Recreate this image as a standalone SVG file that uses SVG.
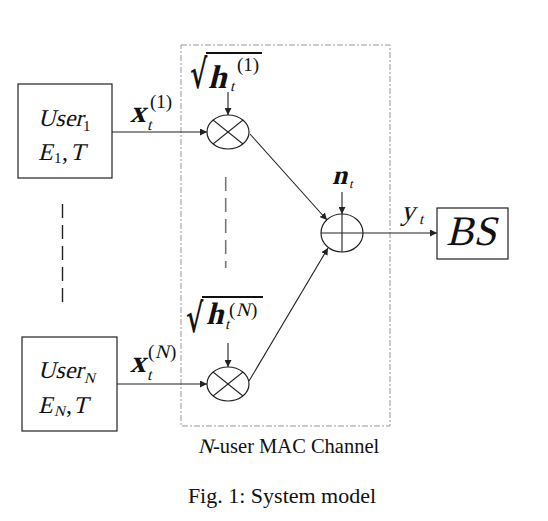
<svg xmlns="http://www.w3.org/2000/svg" width="548" height="521" viewBox="0 0 548 521">
<defs>
<marker id="ah" viewBox="0 0 10 10" refX="10" refY="5" markerWidth="7" markerHeight="7" markerUnits="userSpaceOnUse" orient="auto">
<path d="M0,0 L10,5 L0,10 z" fill="#222"/>
</marker>
</defs>
<style>
.box{fill:#fff;stroke:#222;stroke-width:1.2}
.op{fill:#fff;stroke:#222;stroke-width:1.2}
.ln{stroke:#222;stroke-width:1.1;fill:none}
.m{font-family:"Liberation Serif","Times New Roman",serif;fill:#111}
.r{font-family:"Liberation Serif","Times New Roman",serif;fill:#111}
.b{font-weight:bold}
.rad{font-family:"DejaVu Serif",serif;fill:#111;font-weight:bold}
</style>
<rect width="548" height="521" fill="#fff"/>
<g id="channel">
<rect x="181" y="45" width="209" height="381" fill="none" stroke="#999" stroke-width="1" stroke-dasharray="6 2 2 2"/>
<text class="m" transform="translate(198,453) skewX(-14)" font-size="20.5">N</text>
<text class="r" x="213" y="453" font-size="20.5">-user MAC Channel</text>
</g>
<g id="user1">
<rect class="box" x="18" y="84" width="94" height="94"/>
<text class="m" transform="translate(38,126) skewX(-14)" font-size="24">User</text>
<text class="r" x="83" y="131" font-size="15">1</text>
<text class="m" transform="translate(38,160) skewX(-14)" font-size="24">E</text>
<text class="r" x="54" y="163" font-size="15">1</text>
<text class="r" x="62" y="160" font-size="24">,</text>
<text class="m" transform="translate(70,160) skewX(-14)" font-size="24">T</text>
</g>
<g id="userN">
<rect class="box" x="22" y="337" width="95" height="94"/>
<text class="m" transform="translate(38,378) skewX(-14)" font-size="24">User</text>
<text class="m" transform="translate(84,383) skewX(-14)" font-size="15">N</text>
<text class="m" transform="translate(38,413) skewX(-14)" font-size="24">E</text>
<text class="m" transform="translate(54,416) skewX(-14)" font-size="15">N</text>
<text class="r" x="66" y="413" font-size="24">,</text>
<text class="m" transform="translate(73,413) skewX(-14)" font-size="24">T</text>
</g>
<g id="dots">
<line x1="62.5" y1="204" x2="62.5" y2="302" stroke="#222" stroke-width="1.4" stroke-dasharray="14 7"/>
<line x1="225.7" y1="177" x2="225.7" y2="268" stroke="#777" stroke-width="1.6" stroke-dasharray="14 7"/>
</g>
<g id="mult1">
<ellipse class="op" cx="228" cy="132" rx="21" ry="17"/>
<line class="ln" x1="213" y1="120" x2="243" y2="144"/>
<line class="ln" x1="243" y1="120" x2="213" y2="144"/>
</g>
<g id="multN">
<ellipse class="op" cx="228" cy="384" rx="21" ry="17"/>
<line class="ln" x1="213" y1="372" x2="243" y2="396"/>
<line class="ln" x1="243" y1="372" x2="213" y2="396"/>
</g>
<g id="sum">
<ellipse class="op" cx="342" cy="233" rx="21" ry="19"/>
<line class="ln" x1="321" y1="233" x2="363" y2="233"/>
<line class="ln" x1="342" y1="214" x2="342" y2="252"/>
</g>
<g id="bs">
<rect class="box" x="437" y="208" width="71" height="51"/>
<text class="m" transform="translate(446,245) skewX(-14)" font-size="42" textLength="50" lengthAdjust="spacingAndGlyphs">BS</text>
</g>
<g id="labels">
<text class="rad" transform="translate(190,88) scale(0.66,1)" font-size="40">√</text>
<line x1="206" y1="53" x2="262" y2="53" stroke="#111" stroke-width="1.8"/>
<text class="m b" transform="translate(208,88) skewX(-14)" font-size="33">h</text>
<text class="m" transform="translate(230,91) skewX(-14)" font-size="15">t</text>
<text class="r" x="237" y="71" font-size="19">(1)</text>
<text class="rad" transform="translate(186,332) scale(0.66,1)" font-size="40">√</text>
<line x1="202" y1="297" x2="263" y2="297" stroke="#111" stroke-width="1.8"/>
<text class="m b" transform="translate(206,324) skewX(-14)" font-size="31">h</text>
<text class="m" transform="translate(225,329) skewX(-14)" font-size="15">t</text>
<text class="r" x="229" y="316" font-size="19">(</text>
<text class="m" transform="translate(236,316) skewX(-14)" font-size="19">N</text>
<text class="r" x="251" y="316" font-size="19">)</text>
<text class="m b" transform="translate(130,122) skewX(-14)" font-size="31">x</text>
<text class="m" transform="translate(147,130) skewX(-14)" font-size="16">t</text>
<text class="r" x="150" y="108" font-size="19">(1)</text>
<text class="m b" transform="translate(130,372) skewX(-14)" font-size="31">x</text>
<text class="m" transform="translate(147,380) skewX(-14)" font-size="16">t</text>
<text class="r" x="148" y="358" font-size="19">(</text>
<text class="m" transform="translate(155,358) skewX(-14)" font-size="19">N</text>
<text class="r" x="170" y="358" font-size="19">)</text>
<text class="m b" transform="translate(332,184) skewX(-14)" font-size="27">n</text>
<text class="m" transform="translate(349,188) skewX(-14)" font-size="13">t</text>
<text class="m" transform="translate(401,220) skewX(-14)" font-size="28">y</text>
<text class="m" transform="translate(419,224) skewX(-14)" font-size="15">t</text>
</g>
<g id="connectors">
<line class="ln" x1="112" y1="132" x2="207" y2="132" marker-end="url(#ah)"/>
<line class="ln" x1="117" y1="384" x2="207" y2="384" marker-end="url(#ah)"/>
<line class="ln" x1="228" y1="92" x2="228" y2="115" marker-end="url(#ah)"/>
<line class="ln" x1="228" y1="343" x2="228" y2="367" marker-end="url(#ah)"/>
<line class="ln" x1="250" y1="134" x2="327" y2="220" marker-end="url(#ah)"/>
<line class="ln" x1="249" y1="381" x2="328" y2="248" marker-end="url(#ah)"/>
<line class="ln" x1="342" y1="192" x2="342" y2="214" marker-end="url(#ah)"/>
<line class="ln" x1="363" y1="233" x2="437" y2="233" marker-end="url(#ah)"/>
</g>
<text class="r" x="282" y="503" font-size="22" text-anchor="middle">Fig. 1: System model</text>
</svg>
